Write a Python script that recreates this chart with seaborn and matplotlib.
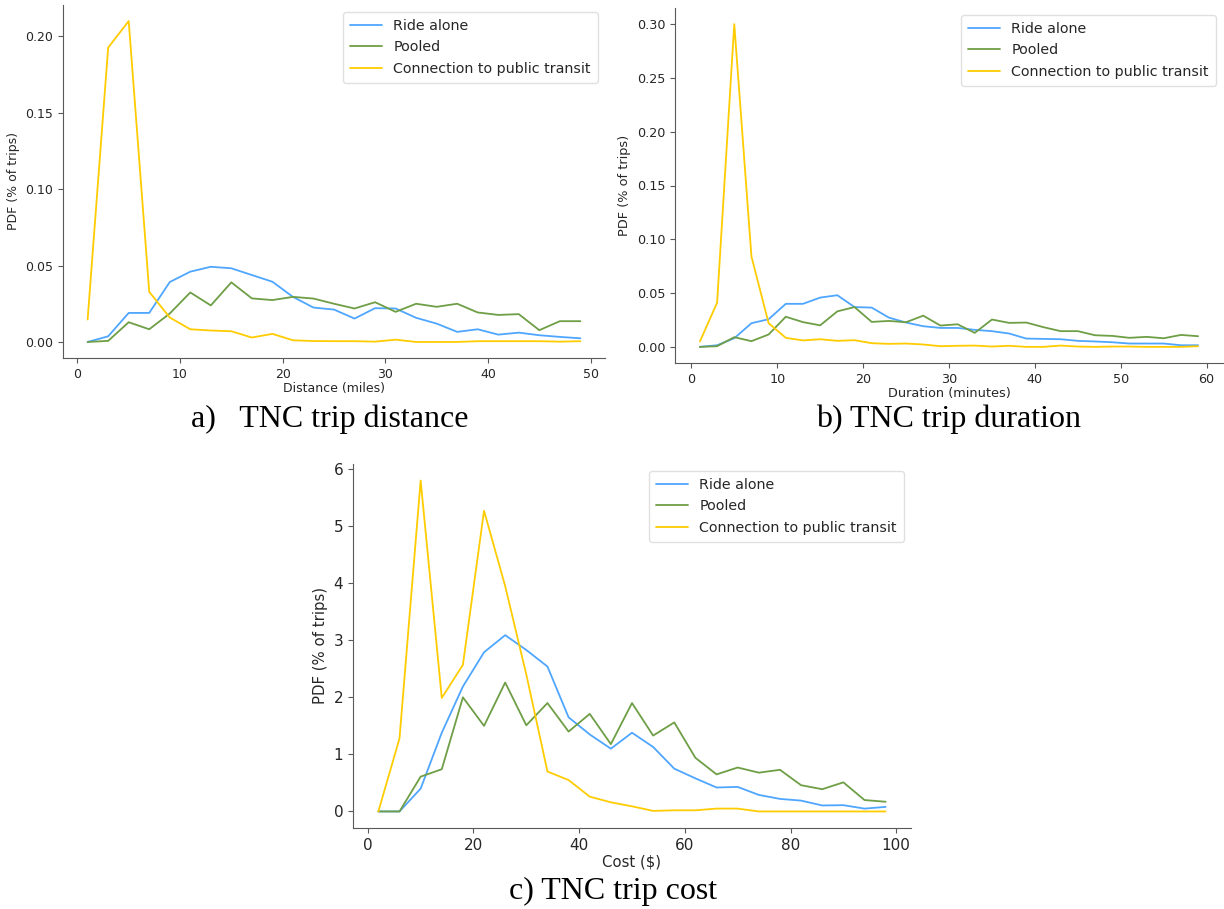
import matplotlib
matplotlib.use("Agg")
import matplotlib.pyplot as plt
import seaborn as sns
import numpy as np

# ---------------- data ----------------
series_names = ["Ride alone", "Pooled", "Connection to public transit"]

dist_x = list(range(1, 50, 2))
dist_ride_alone = [0, 0.0037, 0.019, 0.019, 0.0392, 0.046, 0.0492, 0.0482, 0.0438, 0.0394,
                   0.0295, 0.0225, 0.0212, 0.0153, 0.0221, 0.0219, 0.0158, 0.012, 0.0066,
                   0.0083, 0.0048, 0.0061, 0.0044, 0.0033, 0.0024]
dist_pooled = [0, 0.0007, 0.0129, 0.0083, 0.0186, 0.0324, 0.0239, 0.039, 0.0285, 0.0274,
               0.0295, 0.0284, 0.025, 0.0219, 0.026, 0.0197, 0.025, 0.023, 0.025, 0.0193,
               0.0177, 0.0182, 0.0077, 0.0136, 0.0136]
dist_transit = [0.0147, 0.1926, 0.210, 0.0328, 0.016, 0.0083, 0.0075, 0.007, 0.0029, 0.0053,
                0.0011, 0.0006, 0.0005, 0.0005, 0.0002, 0.0015, 0.0, 0.0, 0.0, 0.0005,
                0.0005, 0.0005, 0.0005, 0.0002, 0.0005]

dur_x = list(range(1, 60, 2))
dur_ride_alone = [0, 0.0015, 0.008, 0.022, 0.0257, 0.040, 0.040, 0.0458, 0.048, 0.037,
                  0.0365, 0.0272, 0.0226, 0.0192, 0.0176, 0.0176, 0.0158, 0.0146, 0.0124,
                  0.0077, 0.0074, 0.0071, 0.0056, 0.005, 0.0043, 0.0031, 0.0031, 0.0031,
                  0.0015, 0.0015]
dur_pooled = [0, 0.0006, 0.009, 0.0053, 0.0115, 0.028, 0.023, 0.020, 0.033, 0.037,
              0.0232, 0.0241, 0.0229, 0.029, 0.0198, 0.021, 0.013, 0.0254, 0.0223,
              0.0226, 0.0183, 0.0146, 0.0146, 0.0108, 0.0102, 0.0084, 0.0093, 0.008,
              0.0111, 0.0099]
dur_transit = [0.005, 0.041, 0.300, 0.084, 0.022, 0.0084, 0.006, 0.0071, 0.0056, 0.0062,
               0.0034, 0.0028, 0.0031, 0.0022, 0.0006, 0.001, 0.0012, 0.0003, 0.001,
               0.0, 0.0, 0.0012, 0.0003, 0.0, 0.0003, 0.0003, 0.0, 0.0, 0.0, 0.0006]

cost_x = list(range(2, 99, 4))
cost_ride_alone = [0, 0, 0.40, 1.38, 2.19, 2.79, 3.09, 2.83, 2.54, 1.65, 1.35, 1.10, 1.38,
                   1.13, 0.75, 0.58, 0.42, 0.43, 0.29, 0.22, 0.19, 0.105, 0.11, 0.05, 0.08]
cost_pooled = [0, 0, 0.61, 0.74, 2.0, 1.50, 2.26, 1.51, 1.90, 1.40, 1.71, 1.18, 1.90,
               1.33, 1.56, 0.94, 0.65, 0.77, 0.68, 0.73, 0.46, 0.39, 0.51, 0.20, 0.17]
cost_transit = [0, 1.28, 5.80, 1.99, 2.57, 5.27, 3.95, 2.4, 0.70, 0.55, 0.26, 0.16, 0.09,
                0.01, 0.02, 0.02, 0.05, 0.05, 0, 0, 0, 0, 0, 0, 0]

colors = ["#4FA6FF", "#6E9E45", "#FFCC00"]

# ---------------- style ----------------
sns.set_style("ticks")
plt.rcParams["font.family"] = ["DejaVu Sans"]
plt.rcParams["axes.edgecolor"] = "0.35"
plt.rcParams["xtick.color"] = "0.35"
plt.rcParams["ytick.color"] = "0.35"
plt.rcParams["xtick.labelcolor"] = "0.15"
plt.rcParams["ytick.labelcolor"] = "0.15"

W, H = 1224, 909
fig = plt.figure(figsize=(W / 100, H / 100), dpi=100)


def box(left, top, right, bottom):
    return [left / W, 1 - bottom / H, (right - left) / W, (bottom - top) / H]


ax_a = fig.add_axes(box(63, 5, 605, 358))
ax_b = fig.add_axes(box(675, 8, 1223, 363))
ax_c = fig.add_axes(box(353, 464, 911, 828))


def draw(ax, x, ys, xlabel, tick_fs, label_fs, legend_fs):
    for name, y, c in zip(series_names, ys, colors):
        sns.lineplot(x=x, y=y, ax=ax, color=c, label=name, linewidth=1.3)
    ax.set_xlabel(xlabel, fontsize=label_fs, labelpad=1)
    ax.set_ylabel("PDF (% of trips)", fontsize=label_fs)
    ax.tick_params(labelsize=tick_fs, length=3.5, width=0.8)
    sns.despine(ax=ax)
    ax.legend(loc="upper right", fontsize=legend_fs, frameon=True,
              fancybox=True, framealpha=0.8, edgecolor="0.85",
              handlelength=2.2, borderpad=0.5)


draw(ax_a, dist_x, [dist_ride_alone, dist_pooled, dist_transit], "Distance (miles)", 9, 9, 10.3)
draw(ax_b, dur_x, [dur_ride_alone, dur_pooled, dur_transit], "Duration (minutes)", 9.2, 9.3, 10.3)
draw(ax_c, cost_x, [cost_ride_alone, cost_pooled, cost_transit], "Cost ($)", 11, 10.7, 10.3)

ax_a.set_yticks([0, 0.05, 0.10, 0.15, 0.20])
ax_b.set_yticks([0, 0.05, 0.10, 0.15, 0.20, 0.25, 0.30])
ax_a.yaxis.set_major_formatter(matplotlib.ticker.FormatStrFormatter("%.2f"))
ax_b.yaxis.set_major_formatter(matplotlib.ticker.FormatStrFormatter("%.2f"))

cap = dict(family=["Liberation Serif", "DejaVu Serif"], fontsize=23, ha="center", va="center", color="black")
fig.text(330 / W, 1 - 419 / H, "a)   TNC trip distance", **cap)
fig.text(949 / W, 1 - 419 / H, "b) TNC trip duration", **cap)
fig.text(613 / W, 1 - 891 / H, "c) TNC trip cost", **cap)

fig.savefig("out.png", dpi=100)
